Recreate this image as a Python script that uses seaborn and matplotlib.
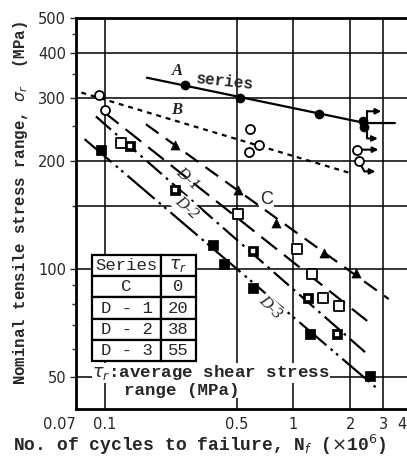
import matplotlib
matplotlib.use("Agg")
import matplotlib.pyplot as plt
import seaborn as sns
from matplotlib.ticker import FixedLocator, NullFormatter, FixedFormatter

# ---- data (cycles in 1e6, stress range in MPa) ----
# Series A : filled circles, solid line
a_cycles = [0.265, 0.52, 1.36, 2.33, 2.38]
a_stress = [326, 300, 270, 258, 249]
a_fit_cycles = [0.167, 2.4, 3.45]
a_fit_stress = [341, 255, 255]

# Series B : open circles, dotted line
b_cycles = [0.093, 0.100, 0.586, 0.58, 0.655, 2.18, 2.22]
b_stress = [306, 278, 245, 212, 222, 215, 200]
b_fit_cycles = [0.075, 2.0]
b_fit_stress = [310, 185]

# Series C : filled triangles
c_cycles = [0.236, 0.506, 0.81, 1.46, 2.15]
c_stress = [222, 166, 134, 111, 97.5]
c_fit_cycles = [0.165, 3.2]
c_fit_stress = [253, 82.5]

# Series D-1 : open squares
d1_cycles = [0.122, 0.505, 1.04, 1.26, 1.43, 1.74]
d1_stress = [225, 142, 114, 97, 83, 79]
d1_fit_cycles = [0.0976, 2.46]
d1_fit_stress = [275, 71.7]

# Series D-2 : dotted squares
d2_cycles = [0.136, 0.236, 0.61, 1.19, 1.71]
d2_stress = [220, 166, 112, 83, 66]
d2_fit_cycles = [0.0896, 2.46]
d2_fit_stress = [266, 58]

# Series D-3 : filled squares
d3_cycles = [0.095, 0.375, 0.43, 0.61, 1.23, 2.55]
d3_stress = [215, 117, 103, 88.5, 66, 50.4]
d3_fit_cycles = [0.078, 2.75]
d3_fit_stress = [230, 46.7]

# run-out arrows (no failure)
runout_start = [2.46, 2.46, 2.28, 2.38]
runout_end = [2.92, 2.80, 2.82, 2.72]
runout_stress = [275, 231, 215, 187]
stem_x0 = [2.46, 2.46, 2.26]
stem_x1 = [2.46, 2.46, 2.38]
stem_y0 = [258, 249, 196]
stem_y1 = [275, 231, 187]

table_series = ["C", "D - 1", "D - 2", "D - 3"]
table_tau = ["0", "20", "38", "55"]

x_ticks = [0.07, 0.1, 0.5, 1, 2, 3, 4]
x_ticklabels = ["0.07", "0.1", "0.5", "1", "2", "3", "4"]
y_ticks = [50, 100, 200, 300, 400, 500]
y_minor = [60, 70, 80, 90, 150, 250, 350, 450]
x_grid = [0.1, 0.5, 1, 2, 3]
y_grid = [50, 100, 150, 200, 300, 400]

sns.set_style("white")
plt.rcParams["font.family"] = ["DejaVu Sans"]
mono = ["Liberation Mono", "DejaVu Sans Mono"]

fig = plt.figure(figsize=(4.07, 4.62), dpi=100)
ax = fig.add_axes([0.186, 0.115, 0.814, 0.846])
ax.set_xscale("log")
ax.set_yscale("log")
ax.set_xlim(0.07, 4.0)
ax.set_ylim(40.8, 500)

for gx in x_grid:
    ax.axvline(gx, color="black", lw=1.1, zorder=1)
for gy in y_grid:
    ax.axhline(gy, color="black", lw=1.1, zorder=1)

# fitted lines
lw = 1.6
sns.lineplot(x=a_fit_cycles, y=a_fit_stress, color="black", lw=lw,
             estimator=None, sort=False, ax=ax)
sns.lineplot(x=b_fit_cycles, y=b_fit_stress, color="black", lw=lw,
             linestyle=(0, (2.2, 2.2)), estimator=None, ax=ax)
sns.lineplot(x=c_fit_cycles, y=c_fit_stress, color="black", lw=lw,
             linestyle=(0, (7, 4)), estimator=None, ax=ax)
sns.lineplot(x=d1_fit_cycles, y=d1_fit_stress, color="black", lw=lw,
             linestyle=(0, (9, 4)), estimator=None, ax=ax)
sns.lineplot(x=d2_fit_cycles, y=d2_fit_stress, color="black", lw=lw,
             linestyle=(0, (9, 2.5, 1.2, 2.5)), estimator=None, ax=ax)
sns.lineplot(x=d3_fit_cycles, y=d3_fit_stress, color="black", lw=lw,
             linestyle=(0, (16, 2.5, 1.2, 2, 1.2, 2.5)), estimator=None, ax=ax)

# markers
ms = 42
sns.scatterplot(x=a_cycles, y=a_stress, marker="o", color="black",
                edgecolor="black", s=ms, ax=ax, zorder=5)
sns.scatterplot(x=b_cycles, y=b_stress, marker="o", color="white",
                edgecolor="black", linewidth=1.3, s=ms, ax=ax, zorder=5)
sns.scatterplot(x=c_cycles, y=c_stress, marker="^", color="black",
                edgecolor="black", s=ms, ax=ax, zorder=5)
sns.scatterplot(x=d1_cycles, y=d1_stress, marker="s", color="white",
                edgecolor="black", linewidth=1.3, s=ms, ax=ax, zorder=5)
sns.scatterplot(x=d2_cycles, y=d2_stress, marker="s", color="black",
                edgecolor="black", s=ms, ax=ax, zorder=5)
sns.scatterplot(x=d2_cycles, y=d2_stress, marker="s", color="white",
                edgecolor="white", s=8, ax=ax, zorder=6)
sns.scatterplot(x=d3_cycles, y=d3_stress, marker="s", color="black",
                edgecolor="black", s=ms, ax=ax, zorder=5)

# run-outs
for x0, x1, y0, y1 in zip(stem_x0, stem_x1, stem_y0, stem_y1):
    ax.plot([x0, x1], [y0, y1], color="black", lw=1.5, zorder=4)
for xs, xe, ys in zip(runout_start, runout_end, runout_stress):
    ax.annotate("", xy=(xe, ys), xytext=(xs, ys),
                arrowprops=dict(arrowstyle="-|>", color="black", lw=1.5,
                                mutation_scale=8, shrinkA=0, shrinkB=0),
                zorder=4)

# series labels
wbox = dict(fc="white", ec="none", pad=0.5)
ax.text(0.241, 355, "A", fontsize=12, fontweight="bold", style="italic",
        family="Liberation Serif", ha="center", va="center")
ax.text(0.43, 333, "series", fontsize=11.5, fontweight="bold", family=mono,
        ha="center", va="center", rotation=-6)
ax.text(0.241, 278, "B", fontsize=12, fontweight="bold", style="italic",
        family="Liberation Serif", ha="center", va="center", bbox=wbox)
ax.text(0.72, 156, "C", fontsize=13, family="Liberation Sans",
        ha="center", va="center", bbox=wbox, zorder=3)
ax.text(0.273, 179, "D-1", fontsize=12, family="Liberation Serif",
        style="italic", ha="center", va="center", rotation=-42, zorder=3)
ax.text(0.27, 148, "D-2", fontsize=12, family="Liberation Serif",
        style="italic", ha="center", va="center", rotation=-42, bbox=wbox, zorder=3)
ax.text(0.755, 78, "D-3", fontsize=12, family="Liberation Serif",
        style="italic", ha="center", va="center", rotation=-45, bbox=wbox, zorder=3)

# table of shear stress ranges
cell_text = [[s, t] for s, t in zip(table_series, table_tau)]
tab = ax.table(cellText=cell_text, colLabels=["Series", r"$\tau_r$"],
               cellLoc="center", colWidths=[0.66, 0.34],
               bbox=[0.05, 0.122, 0.313, 0.272], zorder=7)
tab.auto_set_font_size(False)
for (r, c), cell in tab.get_celld().items():
    cell.set_linewidth(1.6)
    cell.set_edgecolor("black")
    cell.set_facecolor("white")
    cell.get_text().set_fontsize(12.4)
    cell.get_text().set_family(mono)

ax.text(0.05, 0.092, r"$\tau_r$:average shear stress", transform=ax.transAxes,
        fontsize=12.6, family=mono, fontweight="bold", ha="left", va="center",
        bbox=wbox, zorder=7)
ax.text(0.145, 0.048, "range (MPa)", transform=ax.transAxes,
        fontsize=12.6, family=mono, fontweight="bold", ha="left", va="center",
        bbox=wbox, zorder=7)

# axes, ticks, labels
ax.xaxis.set_major_locator(FixedLocator(x_ticks))
ax.xaxis.set_major_formatter(FixedFormatter(x_ticklabels))
ax.xaxis.set_minor_formatter(NullFormatter())
ax.yaxis.set_major_locator(FixedLocator(y_ticks))
ax.yaxis.set_major_formatter(FixedFormatter([str(v) for v in y_ticks]))
ax.yaxis.set_minor_locator(FixedLocator(y_minor))
ax.yaxis.set_minor_formatter(NullFormatter())
ax.tick_params(axis="x", which="both", direction="in", length=5, width=1,
               labelsize=10.5, pad=6)
ax.tick_params(axis="x", which="minor", length=3)
ax.tick_params(axis="y", which="both", direction="out", length=4, width=1,
               labelsize=10.5, pad=3, left=True)
ax.tick_params(axis="y", which="minor", length=3)
labels = ax.get_xticklabels()
labels[0].set_ha("right")
labels[-1].set_ha("right")

for side in ["left", "bottom", "top"]:
    ax.spines[side].set_linewidth(2)
    ax.spines[side].set_color("black")
ax.spines["right"].set_visible(False)

ax.set_xlabel(r"No. of cycles to failure, N$_f$ ($\times$10$^6$)", fontsize=13,
              family=mono, fontweight="bold", va="center")
ax.xaxis.set_label_coords(0.375, -0.092)
ax.set_ylabel(r"Nominal tensile stress range, $\sigma_r$  (MPa)", fontsize=11.3,
              family=mono, fontweight="bold", va="center")
ax.yaxis.set_label_coords(-0.168, 0.527)

fig.savefig("out.png", dpi=100)
